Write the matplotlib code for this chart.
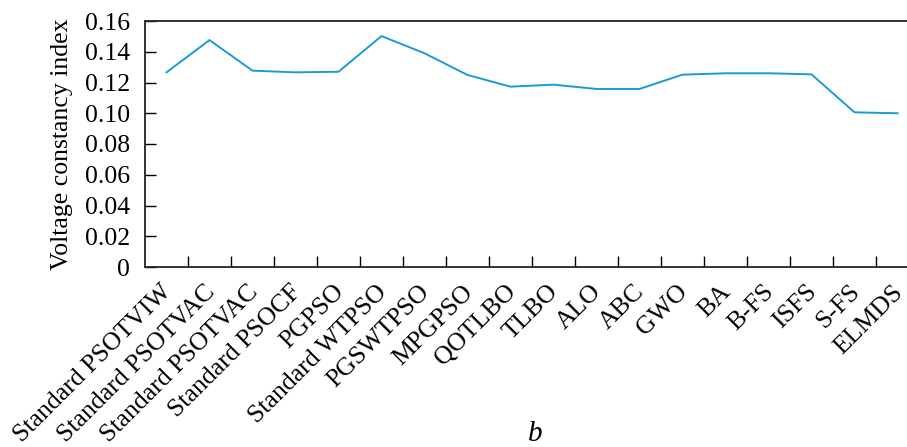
import matplotlib
matplotlib.use("Agg")
import matplotlib.pyplot as plt
import matplotlib.transforms as mtransforms
import numpy as np

plt.rcParams['font.family'] = ['Liberation Serif', 'DejaVu Serif']

algorithms = [
    "Standard PSOTVIW", "Standard PSOTVAC", "Standard PSOTVAC", "Standard PSOCF",
    "PGPSO", "Standard WTPSO", "PGSWTPSO", "MPGPSO", "QOTLBO", "TLBO", "ALO",
    "ABC", "GWO", "BA", "B-FS", "ISFS", "S-FS", "ELMDS",
]
voltage_index = [
    0.1266, 0.1476, 0.1277, 0.1266, 0.1270, 0.1502, 0.1390, 0.1249, 0.1173,
    0.1186, 0.1158, 0.1158, 0.1251, 0.1260, 0.1260, 0.1253, 0.1006, 0.1000,
]
y_ticks = [0, 0.02, 0.04, 0.06, 0.08, 0.10, 0.12, 0.14, 0.16]
y_tick_labels = ["0", "0.02", "0.04", "0.06", "0.08", "0.10", "0.12", "0.14", "0.16"]

W, H = 907, 447
fig = plt.figure(figsize=(W / 100, H / 100), dpi=100)
left, right = 145, 145 + 18 * 43.0
bottom, top = 267, 21
ax = fig.add_axes([left / W, 1 - bottom / H, (right - left) / W, (bottom - top) / H])

x = np.arange(len(algorithms))
ax.plot(x, voltage_index, color="#1a9bd7", linewidth=1.4)

ax.set_xlim(-0.5, len(algorithms) - 0.5)
ax.set_ylim(0, 0.16)
ax.set_yticks(y_ticks)
ax.set_yticklabels(y_tick_labels, fontsize=18.5)

# category boundaries carry the tick marks, labels sit at category centres
ax.set_xticks(np.arange(0.5, len(algorithms) - 0.5, 1.0))
ax.set_xticklabels([])
ax.set_xticks(x, minor=True)
ax.set_xticklabels(algorithms, minor=True, rotation=45, ha="right",
                   rotation_mode="anchor", fontsize=18.5)
ax.tick_params(axis="x", which="major", direction="in", length=8, width=1)
ax.tick_params(axis="x", which="minor", length=0, pad=10)
ax.tick_params(axis="y", direction="in", length=8, width=1, pad=11)

# nudge the slanted category labels a little to the left
shift = mtransforms.ScaledTranslation(-0.06, 0, fig.dpi_scale_trans)
for lbl in ax.get_xticklabels(minor=True):
    lbl.set_transform(lbl.get_transform() + shift)

for s in ax.spines.values():
    s.set_linewidth(1.3)
    s.set_color("#222222")

ax.set_ylabel("Voltage constancy index", fontsize=18.5, labelpad=8)
fig.text(535 / W, 1 - 434 / H, "b", fontsize=21, style="italic",
         ha="center", va="center")

fig.savefig("out.png", dpi=100)
